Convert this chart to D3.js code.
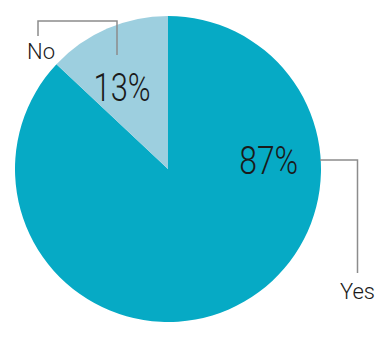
<!DOCTYPE html>
<html lang="en">
<head>
<meta charset="utf-8">
<title>Yes / No pie</title>
<script src="https://d3js.org/d3.v7.min.js"></script>
<style type="text/css">
    body { margin: 0; background: #fff; }
    text { font-family: "Roboto", sans-serif; fill: #1a1a1a; font-weight: 300; }
    .pct { font-size: 38px; }
    .name { font-size: 22px; }
</style>
</head>
<body>
<svg></svg>
<script type="text/javascript">

// data
var labels = ["Yes", "No"];
var values = [87, 13];

var w = 390, h = 340;
var cx = 168, cy = 169, r = 153;

var colors = d3.scaleOrdinal().domain(labels).range(["#06aac5", "#9dcfdf"]);

// where the percent text sits (angle in degrees from 12 o'clock, distance from centre)
var pctPos = { "Yes": { angle: 85.5, dist: 101, width: 59 }, "No": { angle: -29.6, dist: 93, width: 57 } };

// leader lines, relative to the centre of the pie; name sits at the free end
var leaders = {
    "Yes": { pts: [[152, -9], [189.5, -9], [189.5, 104]], name: [189.5, 130], width: 35 },
    "No":  { pts: [[-130, -133], [-130, -148], [-51, -148], [-51, -114]], name: [-127, -110], width: 28 }
};

var svg = d3.select("svg").attr("width", w).attr("height", h);
var g = svg.append("g").attr("transform", "translate(" + cx + "," + cy + ")");

var pie = d3.pie().sort(null).value(d => d.value);
var arc = d3.arc().innerRadius(0).outerRadius(r);

var data = labels.map((l, i) => ({ label: l, value: values[i] }));

g.selectAll("path.slice")
    .data(pie(data))
    .enter()
    .append("path")
    .attr("class", "slice")
    .attr("d", arc)
    .attr("fill", d => colors(d.data.label));

// percent labels
g.selectAll("text.pct")
    .data(data)
    .enter()
    .append("text")
    .attr("class", "pct")
    .attr("text-anchor", "middle")
    .attr("x", d => Math.sin(pctPos[d.label].angle * Math.PI / 180) * pctPos[d.label].dist)
    .attr("y", d => -Math.cos(pctPos[d.label].angle * Math.PI / 180) * pctPos[d.label].dist + 13)
    .attr("textLength", d => pctPos[d.label].width)
    .attr("lengthAdjust", "spacingAndGlyphs")
    .text(d => d.value + "%");

// leader lines + category names
var line = d3.line();
g.selectAll("path.leader")
    .data(data)
    .enter()
    .append("path")
    .attr("class", "leader")
    .attr("d", d => line(leaders[d.label].pts))
    .attr("fill", "none")
    .attr("stroke", "#8c8c8c")
    .attr("stroke-width", 1.5);

g.selectAll("text.name")
    .data(data)
    .enter()
    .append("text")
    .attr("class", "name")
    .attr("text-anchor", "middle")
    .attr("x", d => leaders[d.label].name[0])
    .attr("y", d => leaders[d.label].name[1])
    .attr("textLength", d => leaders[d.label].width)
    .attr("lengthAdjust", "spacingAndGlyphs")
    .text(d => d.label);

</script>
</body>
</html>
